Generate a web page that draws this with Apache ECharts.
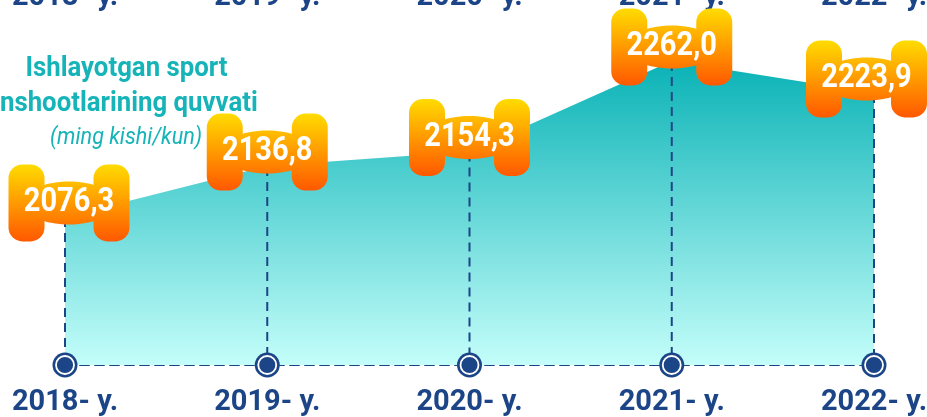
<!DOCTYPE html>
<html>
<head>
<meta charset="utf-8">
<script src="https://cdn.jsdelivr.net/npm/echarts@6/dist/echarts.min.js"></script>
<style>
html,body{margin:0;padding:0;background:#fff;}
#c{width:927px;height:417px;}
</style>
</head>
<body>
<div id="c"></div>
<script>
// ---- data ----
const years = ['2018- y.', '2019- y.', '2020- y.', '2021- y.', '2022- y.'];
const capacity = [2076.3, 2136.8, 2154.3, 2262.0, 2223.9];
const titleLine1 = 'Ishlayotgan sport';
const titleLine2 = 'nshootlarining quvvati';
const unitLine = '(ming kishi/kun)';

const AXIS_MIN = 1900, AXIS_MAX = 2300;
const DARK = '#1c4587';
const TEAL = '#16b4b8';

const chart = echarts.init(document.getElementById('c'), null, {renderer: 'canvas'});

function fmt(v) { return v.toFixed(1).replace('.', ','); }

function renderLabel(params, api) {
  const idx = api.value(0), v = api.value(1);
  const p = api.coord([idx, v]);
  const b = api.coord([idx, AXIS_MIN]);
  const W = api.getWidth();
  const half = 60.5, blockW = 36, H = 77;
  const cx = Math.min(Math.max(p[0], half + 8.5), W - half);
  const cy = p[1] - 14;
  const top = cy - H / 2;
  const grad = () => new echarts.graphic.LinearGradient(0, top, 0, top + H, [
    {offset: 0, color: '#ffdc00'},
    {offset: 0.45, color: '#ffa000'},
    {offset: 1, color: '#ff5800'}
  ], true);
  return {
    type: 'group',
    children: [
      {type: 'line', shape: {x1: p[0], y1: cy, x2: p[0], y2: b[1]},
       style: {stroke: DARK, lineWidth: 2, lineDash: [9, 6]}},
      {type: 'rect', shape: {x: cx - half, y: top, width: blockW, height: H, r: 14},
       style: {fill: grad()}},
      {type: 'rect', shape: {x: cx + half - blockW, y: top, width: blockW, height: H, r: 14},
       style: {fill: grad()}},
      {type: 'ellipse', shape: {cx: cx, cy: cy, rx: 46, ry: 21.5},
       style: {fill: grad()}},
      {type: 'text', x: cx, y: cy, scaleX: 0.88,
       style: {text: fmt(v), fill: '#fff', font: 'bold 33px Roboto',
               align: 'center', verticalAlign: 'middle'}}
    ]
  };
}

const axisLabelStyle = {
  color: DARK, fontFamily: 'Roboto', fontWeight: 'bold', fontSize: 29
};

chart.setOption({
  animation: false,
  grid: {left: 65, right: 53, top: 29, bottom: 52, containLabel: false, outerBoundsMode: 'none'},
  xAxis: [
    {type: 'category', data: years, boundaryGap: false,
     axisLine: {show: true, lineStyle: {color: DARK, width: 2, type: [9, 6]}},
     axisTick: {show: false},
     axisLabel: Object.assign({margin: 23, interval: 0}, axisLabelStyle),
     splitLine: {show: false}},
    {type: 'category', data: years, boundaryGap: false, position: 'top',
     axisLine: {show: false}, axisTick: {show: false},
     axisLabel: Object.assign({margin: 17, interval: 0}, axisLabelStyle),
     splitLine: {show: false}}
  ],
  yAxis: {type: 'value', min: AXIS_MIN, max: AXIS_MAX, show: false, splitLine: {show: false}},
  graphic: [
    {type: 'text', x: 126.5, y: 55, scaleX: 0.92, z: 10,
     style: {text: titleLine1, fill: TEAL, font: 'bold 28px Roboto', align: 'center', verticalAlign: 'alphabetic'}},
    {type: 'text', x: 0, y: 90, scaleX: 0.92, z: 10,
     style: {text: titleLine2, fill: TEAL, font: 'bold 28px Roboto', align: 'left', verticalAlign: 'alphabetic'}},
    {type: 'text', x: 126, y: 126, scaleX: 0.9, z: 10,
     style: {text: unitLine, fill: TEAL, font: 'italic 24px Roboto', align: 'center', verticalAlign: 'alphabetic'}}
  ],
  series: [
    {type: 'line', data: capacity, xAxisIndex: 0, showSymbol: false, smooth: false,
     lineStyle: {width: 0}, z: 1,
     areaStyle: {opacity: 1, origin: 'start',
       color: new echarts.graphic.LinearGradient(0, 0, 0, 1, [
         {offset: 0, color: '#09b2b6'},
         {offset: 1, color: '#c4fefa'}
       ])}},
    {type: 'custom', xAxisIndex: 0, z: 3, clip: false,
     data: capacity.map((v, i) => [i, v]),
     renderItem: renderLabel},
    {type: 'scatter', xAxisIndex: 0, z: 4, clip: false, symbolSize: 25,
     itemStyle: {color: DARK, opacity: 1},
     data: capacity.map((v, i) => [i, AXIS_MIN])},
    {type: 'scatter', xAxisIndex: 0, z: 5, clip: false, symbolSize: 18,
     itemStyle: {color: DARK, borderColor: '#fff', borderWidth: 1.8, opacity: 1},
     data: capacity.map((v, i) => [i, AXIS_MIN])}
  ]
});
</script>
</body>
</html>
